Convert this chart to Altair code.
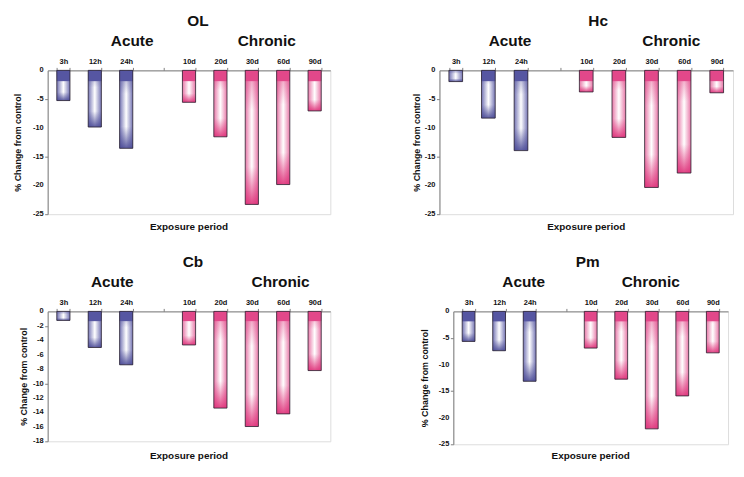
import altair as alt
import pandas as pd

# ---------------- data ----------------
periods = ["3h", "12h", "24h", " ", "10d", "20d", "30d", "60d", "90d"]
phases = ["Acute", "Acute", "Acute", "", "Chronic", "Chronic", "Chronic", "Chronic", "Chronic"]

ol_values = [-5.25, -9.85, -13.55, None, -5.55, -11.55, -23.3, -19.85, -7.05]
hc_values = [-1.95, -8.3, -13.95, None, -3.75, -11.65, -20.35, -17.85, -3.9]
cb_values = [-1.25, -5.0, -7.4, None, -4.65, -13.4, -15.95, -14.2, -8.2]
pm_values = [-5.65, -7.4, -13.15, None, -6.9, -12.75, -22.1, -15.9, -7.8]

panel_names = ["OL", "Hc", "Cb", "Pm"]
panel_values = [ol_values, hc_values, cb_values, pm_values]
y_mins = [-25, -25, -18, -25]
y_steps = [5, 5, 2, 5]

phase_labels = ["Acute", "Chronic"]
phase_anchor = ["24h", "30d"]
x_title = "Exposure period"
y_title = "% Change from control"

# ---------------- style ----------------
FONT = "Liberation Sans"
COLORS = {
    "Acute": {"dark": "#4a4a96", "edge": "#7474b4", "cap": "#5656a2", "rgb": "74,74,150"},
    "Chronic": {"dark": "#de2f78", "edge": "#e878a8", "cap": "#e2488a", "rgb": "222,47,120"},
}

# per panel layout: width, height, y title pad, title dx, acute dx, chronic dx, x-title offset
layout = {
    "OL": dict(w=285, h=145, tpad=11, tdx=9, adx=6, cdx=15, xty=13),
    "Hc": dict(w=296, h=145, tpad=4, tdx=12, adx=-11, cdx=20, xty=13),
    "Cb": dict(w=285, h=131, tpad=5, tdx=4, adx=-14, cdx=29, xty=15),
    "Pm": dict(w=277, h=134, tpad=10, tdx=-3, adx=-6, cdx=-1, xty=12),
}


def hgrad(c):
    return alt.LinearGradient(
        gradient="linear", x1=0, x2=1, y1=0, y2=0,
        stops=[
            alt.GradientStop(offset=0, color=c["edge"]),
            alt.GradientStop(offset=0.5, color="#ffffff"),
            alt.GradientStop(offset=1, color=c["edge"]),
        ],
    )


def vgrad(c):
    rgb = c["rgb"]
    return alt.LinearGradient(
        gradient="linear", x1=0, x2=0, y1=0, y2=1,
        stops=[
            alt.GradientStop(offset=0, color=f"rgba({rgb},0.55)"),
            alt.GradientStop(offset=0.3, color=f"rgba({rgb},0)"),
            alt.GradientStop(offset=0.72, color=f"rgba({rgb},0)"),
            alt.GradientStop(offset=1, color=f"rgba({rgb},0.9)"),
        ],
    )


def make_panel(name, values, ymin, ystep):
    L = layout[name]
    W, H = L["w"], L["h"]
    rows = [
        {"period": p, "phase": ph, "value": v}
        for p, ph, v in zip(periods, phases, values)
        if v is not None
    ]
    df = pd.DataFrame(rows)
    cap = 0.075 * abs(ymin)
    tick_vals = list(range(0, ymin - 1, -ystep))

    xscale = alt.Scale(domain=periods, paddingInner=0.58, paddingOuter=0.29)
    xenc = alt.X(
        "period:N",
        sort=periods,
        scale=xscale,
        axis=alt.Axis(
            orient="top", title=None, labelAngle=0, labelFontSize=7.5,
            labelFontWeight="bold", labelColor="#111", labelPadding=1.5,
            tickSize=3, tickBand="extent", tickColor="#808080",
            domainColor="#808080", labelFont=FONT, labelOverlap=False,
        ),
    )
    xplain = alt.X("period:N", sort=periods)
    yscale = alt.Scale(domain=[ymin, 0], nice=False, zero=True)
    yaxis = alt.Axis(
        values=tick_vals, title=y_title, grid=False, labels=False,
        tickSize=3, tickColor="#808080", domainColor="#808080",
        minExtent=14, maxExtent=14, titlePadding=L["tpad"], titleFontSize=9,
        titleFontWeight="bold", titleColor="#111", titleFont=FONT,
    )

    layers = []
    # the first layer carries both axes
    axis_layer = alt.Chart(df).mark_bar(opacity=0).encode(
        x=xenc, y=alt.Y("value:Q", scale=yscale, axis=yaxis, stack=None)
    )
    layers.append(axis_layer)

    base = alt.Chart(df).encode(x=xplain)
    for ph in ["Acute", "Chronic"]:
        c = COLORS[ph]
        sub = base.transform_filter(alt.datum.phase == ph)
        layers.append(
            sub.mark_bar(fill=hgrad(c)).encode(y=alt.Y("value:Q", stack=None))
        )
        layers.append(
            sub.mark_bar(fill=vgrad(c)).encode(y=alt.Y("value:Q", stack=None))
        )
        layers.append(
            sub.transform_filter(alt.datum.value < -2.5)
            .transform_calculate(capv=f"max(datum.value, {-cap})", zero="0")
            .mark_bar(color=c["cap"])
            .encode(y=alt.Y("capv:Q", stack=None), y2="zero:Q")
        )
    layers.append(
        base.mark_bar(fillOpacity=0, stroke="#2a2230", strokeWidth=0.8).encode(
            y=alt.Y("value:Q", stack=None)
        )
    )

    # y tick labels drawn through the y scale
    ldf = pd.DataFrame({"value": tick_vals, "label": [str(v) for v in tick_vals]})
    layers.append(
        alt.Chart(ldf)
        .mark_text(font=FONT, fontSize=7.5, fontWeight="bold", color="#111",
                   align="right", baseline="middle")
        .encode(x=alt.value(-4), y=alt.Y("value:Q"), text="label:N")
    )

    # Acute / Chronic group labels
    for lab, anchor, dx in zip(phase_labels, phase_anchor, [L["adx"], L["cdx"]]):
        tdf = pd.DataFrame({"period": [anchor], "label": [lab]})
        layers.append(
            alt.Chart(tdf)
            .mark_text(font=FONT, fontSize=15.5, fontWeight="bold", color="#111",
                       baseline="middle", dx=dx)
            .encode(x=xplain, y=alt.value(-30), text="label:N")
        )

    # x axis title at the bottom
    xdf = pd.DataFrame({"label": [x_title]})
    layers.append(
        alt.Chart(xdf)
        .mark_text(font=FONT, fontSize=10, fontWeight="bold", color="#111",
                   baseline="middle")
        .encode(x=alt.value(W / 2), y=alt.value(H + L["xty"]), text="label:N")
    )

    return alt.layer(*layers).properties(
        width=W, height=H,
        title=alt.TitleParams(
            text=name, font=FONT, fontSize=15.5, fontWeight="bold", color="#111",
            anchor="middle", frame="group", dx=L["tdx"], offset=4,
        ),
    )


panels = [make_panel(n, v, m, s) for n, v, m, s in zip(panel_names, panel_values, y_mins, y_steps)]

row1 = alt.hconcat(panels[0], panels[1], spacing=81)
row2 = alt.hconcat(panels[2], panels[3], spacing=89)

chart = (
    alt.concat(row1, row2, columns=1, align="none", spacing=22)
    .properties(padding={"left": 5, "top": 4, "right": 2, "bottom": 2})
    .configure_view(stroke="#8c8c8c", strokeWidth=1)
    .configure(font=FONT, background="white")
)

chart.save("out.html", embed_options={"renderer": "svg", "actions": False})
